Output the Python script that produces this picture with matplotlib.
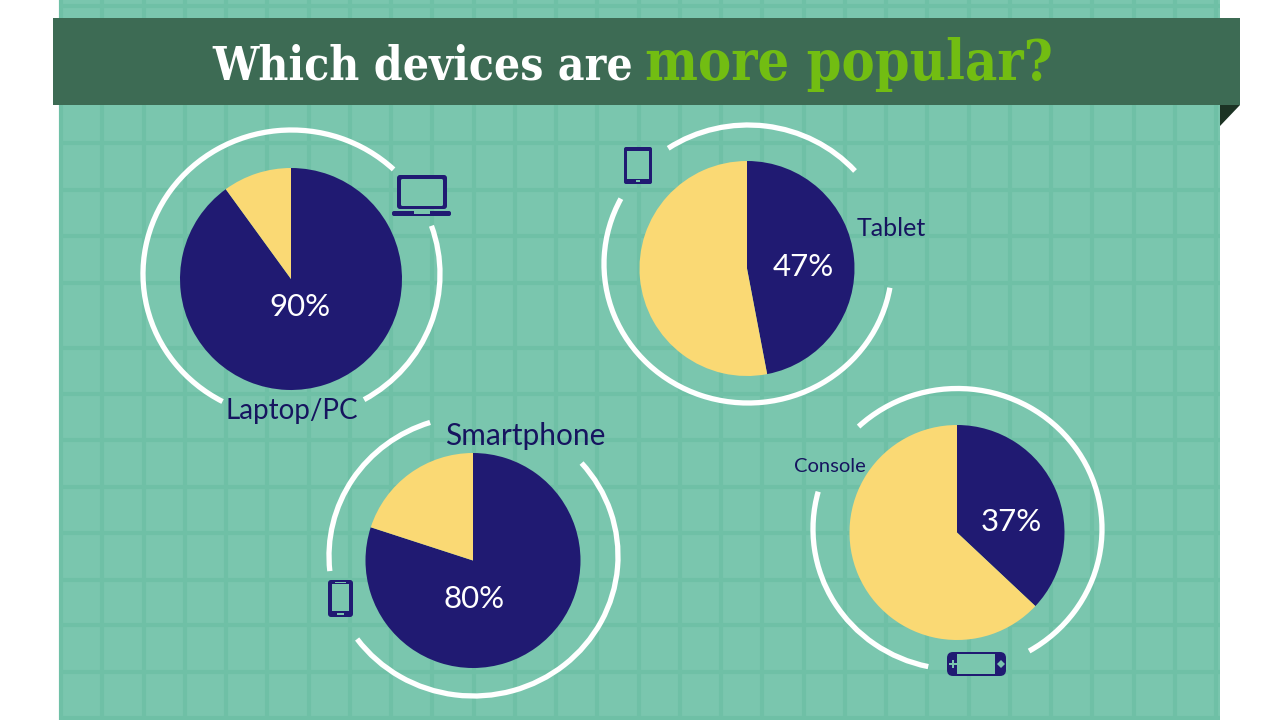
import matplotlib
matplotlib.use("Agg")
import matplotlib.pyplot as plt
from matplotlib.patches import Arc, FancyBboxPatch, Polygon, Rectangle
import numpy as np

# share of people using each device, in percent
devices = ["Laptop/PC", "Tablet", "Smartphone", "Console"]
used = [90, 47, 80, 37]
percent_labels = ["90%", "47%", "80%", "37%"]

NAVY = "#201a72"
LABEL = "#16145f"
YELLOW = "#fad974"
TEAL = "#7ac6ae"
GRID = "#6fc0a6"
BANNER = "#3d6b54"
FOLD = "#1c3324"
GREEN = "#72bd12"

# pie centre x, y (image pixels) and radius
pie_pos = [(291, 279, 111), (747, 268.5, 107.5), (473, 560.5, 107.5), (957, 532.5, 107.5)]
# ring centre x, y, radii and the visible arcs as (start, end) degrees
rings = [
    (291.5, 274, 148.5, 144, [(45.7, 241.6), (-60, 19)]),
    (748, 264, 144, 139, [(41, 124.6), (152.8, 350.5)]),
    (473.5, 556, 144.5, 140, [(108, 186), (-144.5, 40.7)]),
    (957.5, 529, 144.5, 140.5, [(-59.6, 134), (165, 258)]),
]
label_pos = [(292, 411, 20), (891, 229, 18), (525, 436, 21.5), (829.5, 467, 14.5)]
percent_pos = [(300, 307), (803, 267), (474, 599), (1011, 522)]

grid_rows = [6, 52, 98, 143, 190, 236, 283, 348, 394, 440, 487, 533, 580, 625, 672, 718]


def Y(y):
    return 720 - y


fig = plt.figure(figsize=(12.8, 7.2), dpi=100, facecolor="white")
ax = fig.add_axes([0, 0, 1, 1])

# tiled background
ax.add_patch(Rectangle((59, 0), 1161, 720, fc=TEAL, ec="none", zorder=0))
for x in np.arange(61, 1220, 41.25):
    ax.plot([x, x], [0, 720], color=GRID, lw=3.0, solid_capstyle="butt", zorder=1)
for y in grid_rows:
    ax.plot([59, 1220], [Y(y), Y(y)], color=GRID, lw=3.0, solid_capstyle="butt", zorder=1)

# banner
ax.add_patch(Rectangle((53, Y(105)), 1187, 87, fc=BANNER, ec="none", zorder=5))
ax.add_patch(Polygon([(1220, Y(105)), (1240, Y(105)), (1220, Y(126))], fc=FOLD, ec="none", zorder=5))
ax.text(212, Y(80), "Which devices are", color="white", fontsize=33, fontweight="bold",
        family="DejaVu Serif", fontstretch="condensed", va="baseline", ha="left", zorder=6)
ax.text(645, Y(80), "more popular?", color=GREEN, fontsize=40, fontweight="bold",
        family="DejaVu Serif", fontstretch="condensed", va="baseline", ha="left", zorder=6)

# pies and rings
for i in range(len(devices)):
    cx, cy, r = pie_pos[i]
    wedges, _ = ax.pie([used[i], 100 - used[i]], colors=[NAVY, YELLOW], startangle=90,
                       counterclock=False, center=(cx, Y(cy)), radius=r, frame=True)
    for w in wedges:
        w.set_zorder(3)
    rx, ry, rw, rh, arcs = rings[i]
    for a, b in arcs:
        ax.add_patch(Arc((rx, Y(ry)), 2 * rw, 2 * rh, theta1=a, theta2=b, color="white", lw=3.8, zorder=2))
    lx, ly, fs = label_pos[i]
    ax.text(lx, Y(ly), devices[i], color=LABEL, fontsize=fs, family="Lato", ha="center", va="center", zorder=4)
    px, py = percent_pos[i]
    ax.text(px, Y(py), percent_labels[i], color="white", fontsize=22.5, family="Lato", ha="center", va="center", zorder=4)

ax.set_xlim(0, 1280)
ax.set_ylim(0, 720)
ax.set_aspect("auto")
ax.axis("off")


def rounded(x0, y0, x1, y1, pad=3, **kw):
    # box given in image pixels
    ax.add_patch(FancyBboxPatch((x0 + pad, Y(y1) + pad), x1 - x0 - 2 * pad, y1 - y0 - 2 * pad,
                                boxstyle="round,pad=%g,rounding_size=%g" % (pad, pad), zorder=4, **kw))


# laptop icon
rounded(397, 175, 447, 209, fc=NAVY, ec="none")
rounded(401, 179, 443, 206, pad=1.5, fc=TEAL, ec="none")
rounded(392, 211, 451, 216, pad=2, fc=NAVY, ec="none")
ax.add_patch(Rectangle((414, Y(214)), 16, 3, fc=TEAL, ec="none", zorder=5))

# tablet icon
rounded(624, 147, 652, 184, pad=2, fc=NAVY, ec="none")
ax.add_patch(Rectangle((627, Y(179)), 22, 28, fc=TEAL, ec="none", zorder=5))
ax.add_patch(Rectangle((636, Y(182)), 4, 2, fc=TEAL, ec="none", zorder=5))

# phone icon
rounded(328, 580, 353, 617, pad=3, fc=NAVY, ec="none")
ax.add_patch(Rectangle((332, Y(611)), 17, 27, fc=TEAL, ec="none", zorder=5))
ax.add_patch(Rectangle((337, Y(615)), 7, 2.5, fc=TEAL, ec="none", zorder=5))
ax.add_patch(Rectangle((335, Y(582.5)), 11, 1, fc=TEAL, ec="none", zorder=5))

# console icon
rounded(947, 652, 1006, 676, pad=6, fc=NAVY, ec="none")
ax.add_patch(Rectangle((957, Y(674)), 38, 20, fc=TEAL, ec="none", zorder=5))
ax.plot([953], [Y(664)], marker="P", ms=6, color=TEAL, mew=0, zorder=5)
ax.plot([1001], [Y(664)], marker="D", ms=4, color=TEAL, mew=0, zorder=5)

fig.savefig("out.png", dpi=100, facecolor="white")
